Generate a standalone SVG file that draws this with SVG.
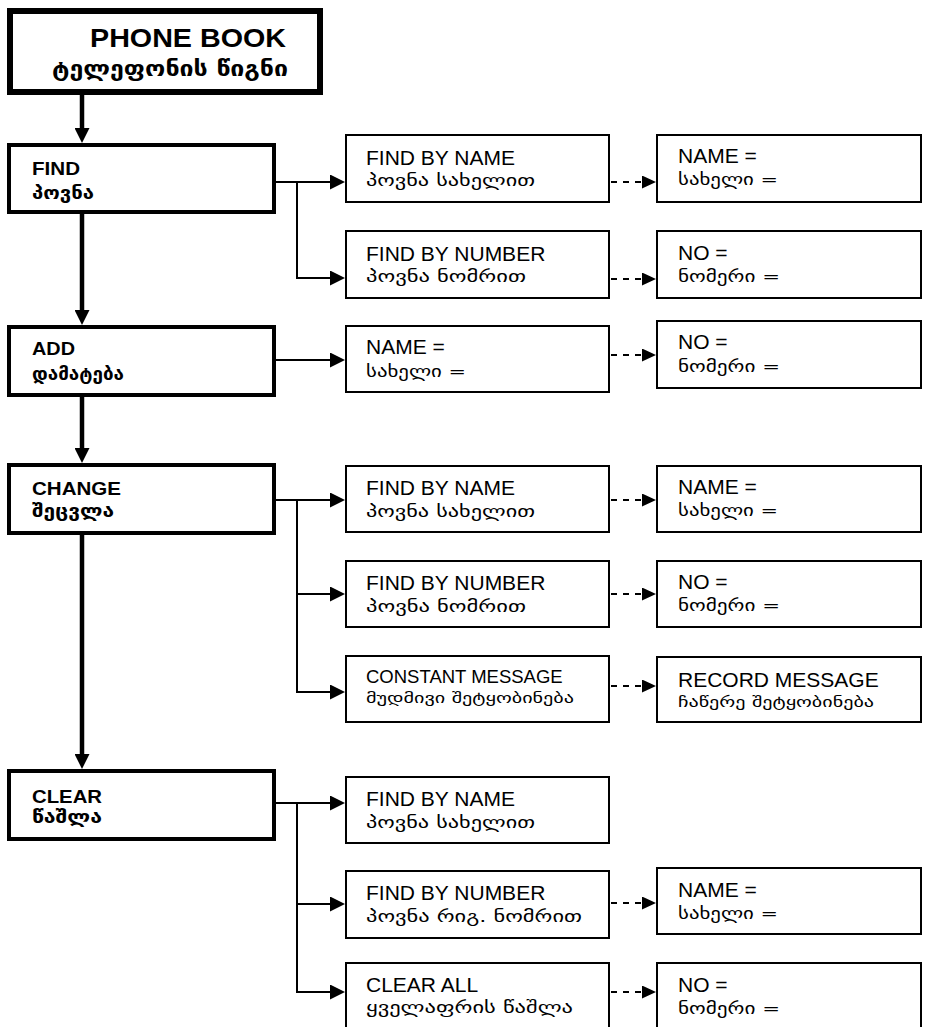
<svg xmlns="http://www.w3.org/2000/svg" width="926" height="1027" viewBox="0 0 926 1027">
<style>
.tb{fill:#fff;stroke:#000;stroke-width:6}
.mb{fill:#fff;stroke:#000;stroke-width:4}
.sb{fill:#fff;stroke:#000;stroke-width:2}
.lt{font-family:"Liberation Sans",Arial,sans-serif;font-size:21px;fill:#000}
.lts{font-family:"Liberation Sans",Arial,sans-serif;font-size:18.5px;fill:#000}
.bt{font-family:"Liberation Sans",Arial,sans-serif;font-size:19px;font-weight:bold;fill:#000}
.ge{font-family:"DejaVu Sans",sans-serif;font-size:16px;fill:#000}
.geb{font-family:"DejaVu Sans",sans-serif;font-size:18px;font-weight:bold;fill:#000}
.thick{stroke:#000;stroke-width:4.5;fill:none}
.thin{stroke:#000;stroke-width:2;fill:none}
.dash{stroke:#000;stroke-width:2;fill:none;stroke-dasharray:6 6}
</style>
<defs>
<marker id="ah" markerUnits="userSpaceOnUse" markerWidth="15" markerHeight="15" refX="0" refY="7.5" orient="auto" viewBox="0 0 15 15">
<path d="M0,0 L15,7.5 L0,15 z" fill="#000"/>
</marker>
<marker id="ahd" markerUnits="userSpaceOnUse" markerWidth="14" markerHeight="13" refX="0" refY="6.5" orient="auto" viewBox="0 0 14 13">
<path d="M0,0 L14,6.5 L0,13 z" fill="#000"/>
</marker>
</defs>

<g id="connectors">
<line class="thick" x1="82" y1="95" x2="82" y2="128" marker-end="url(#ah)"/>
<line class="thick" x1="82" y1="214" x2="82" y2="310" marker-end="url(#ah)"/>
<line class="thick" x1="82" y1="397" x2="82" y2="448" marker-end="url(#ah)"/>
<line class="thick" x1="82" y1="535" x2="82" y2="754" marker-end="url(#ah)"/>

<line class="thin" x1="275" y1="182" x2="330" y2="182" marker-end="url(#ah)"/>
<polyline class="thin" points="297,182 297,278 330,278" marker-end="url(#ah)"/>
<line class="thin" x1="275" y1="360" x2="330" y2="360" marker-end="url(#ah)"/>
<line class="thin" x1="275" y1="500" x2="330" y2="500" marker-end="url(#ah)"/>
<line class="thin" x1="297" y1="500" x2="297" y2="692"/>
<line class="thin" x1="297" y1="594" x2="330" y2="594" marker-end="url(#ah)"/>
<line class="thin" x1="296" y1="692" x2="330" y2="692" marker-end="url(#ah)"/>
<line class="thin" x1="275" y1="803" x2="330" y2="803" marker-end="url(#ah)"/>
<line class="thin" x1="297" y1="803" x2="297" y2="992"/>
<line class="thin" x1="297" y1="904" x2="330" y2="904" marker-end="url(#ah)"/>
<line class="thin" x1="296" y1="992" x2="330" y2="992" marker-end="url(#ah)"/>

<line class="dash" x1="611" y1="182" x2="642" y2="182" marker-end="url(#ahd)"/>
<line class="dash" x1="611" y1="279" x2="642" y2="279" marker-end="url(#ahd)"/>
<line class="dash" x1="611" y1="355" x2="642" y2="355" marker-end="url(#ahd)"/>
<line class="dash" x1="611" y1="500" x2="642" y2="500" marker-end="url(#ahd)"/>
<line class="dash" x1="611" y1="594" x2="642" y2="594" marker-end="url(#ahd)"/>
<line class="dash" x1="611" y1="686" x2="642" y2="686" marker-end="url(#ahd)"/>
<line class="dash" x1="611" y1="903" x2="642" y2="903" marker-end="url(#ahd)"/>
<line class="dash" x1="611" y1="992" x2="642" y2="992" marker-end="url(#ahd)"/>
</g>

<g id="title">
<rect class="tb" x="10" y="11" width="310" height="81"/>
<text class="bt" x="90" y="47" style="font-size:26px" textLength="196" lengthAdjust="spacingAndGlyphs">PHONE BOOK</text>
<text class="geb" x="52" y="76" style="font-size:22px" textLength="236" lengthAdjust="spacingAndGlyphs">ტელეფონის წიგნი</text>
</g>

<g id="find">
<rect class="mb" x="9" y="145" width="265" height="67"/>
<text class="bt" x="32" y="175" textLength="48" lengthAdjust="spacingAndGlyphs">FIND</text>
<text class="geb" x="32" y="199" textLength="62" lengthAdjust="spacingAndGlyphs">პოვნა</text>
</g>
<g id="find-by-name">
<rect class="sb" x="346" y="135" width="263" height="67"/>
<text class="lt" x="366" y="165">FIND BY NAME</text>
<text class="ge" x="366" y="186" textLength="169" lengthAdjust="spacingAndGlyphs">პოვნა სახელით</text>
</g>
<g id="find-by-number">
<rect class="sb" x="346" y="231" width="263" height="67"/>
<text class="lt" x="366" y="261">FIND BY NUMBER</text>
<text class="ge" x="366" y="282" textLength="160" lengthAdjust="spacingAndGlyphs">პოვნა ნომრით</text>
</g>
<g id="find-name-eq">
<rect class="sb" x="657" y="135" width="264" height="67"/>
<text class="lt" x="678" y="163">NAME =</text>
<text class="ge" x="678" y="185" textLength="100" lengthAdjust="spacingAndGlyphs">სახელი =</text>
</g>
<g id="find-no-eq">
<rect class="sb" x="657" y="231" width="264" height="67"/>
<text class="lt" x="678" y="260">NO =</text>
<text class="ge" x="678" y="282" textLength="102" lengthAdjust="spacingAndGlyphs">ნომერი =</text>
</g>

<g id="add">
<rect class="mb" x="9" y="327" width="265" height="68"/>
<text class="bt" x="32" y="355" textLength="43" lengthAdjust="spacingAndGlyphs">ADD</text>
<text class="geb" x="32" y="380" textLength="92" lengthAdjust="spacingAndGlyphs">დამატება</text>
</g>
<g id="add-name-eq">
<rect class="sb" x="346" y="326" width="263" height="66"/>
<text class="lt" x="366" y="354">NAME =</text>
<text class="ge" x="366" y="377" textLength="100" lengthAdjust="spacingAndGlyphs">სახელი =</text>
</g>
<g id="add-no-eq">
<rect class="sb" x="657" y="321" width="264" height="67"/>
<text class="lt" x="678" y="349">NO =</text>
<text class="ge" x="678" y="372" textLength="102" lengthAdjust="spacingAndGlyphs">ნომერი =</text>
</g>

<g id="change">
<rect class="mb" x="9" y="465" width="265" height="68"/>
<text class="bt" x="32" y="495" textLength="89" lengthAdjust="spacingAndGlyphs">CHANGE</text>
<text class="geb" x="32" y="517" textLength="82" lengthAdjust="spacingAndGlyphs">შეცვლა</text>
</g>
<g id="change-find-by-name">
<rect class="sb" x="346" y="466" width="263" height="66"/>
<text class="lt" x="366" y="495">FIND BY NAME</text>
<text class="ge" x="366" y="517" textLength="169" lengthAdjust="spacingAndGlyphs">პოვნა სახელით</text>
</g>
<g id="change-find-by-number">
<rect class="sb" x="346" y="561" width="263" height="66"/>
<text class="lt" x="366" y="590">FIND BY NUMBER</text>
<text class="ge" x="366" y="612" textLength="160" lengthAdjust="spacingAndGlyphs">პოვნა ნომრით</text>
</g>
<g id="constant-message">
<rect class="sb" x="346" y="656" width="263" height="66"/>
<text class="lts" x="366" y="683">CONSTANT MESSAGE</text>
<text class="ge" x="366" y="703" style="font-size:15px" textLength="208" lengthAdjust="spacingAndGlyphs">მუდმივი შეტყობინება</text>
</g>
<g id="change-name-eq">
<rect class="sb" x="657" y="466" width="264" height="66"/>
<text class="lt" x="678" y="494">NAME =</text>
<text class="ge" x="678" y="516" textLength="100" lengthAdjust="spacingAndGlyphs">სახელი =</text>
</g>
<g id="change-no-eq">
<rect class="sb" x="657" y="561" width="264" height="66"/>
<text class="lt" x="678" y="589">NO =</text>
<text class="ge" x="678" y="611" textLength="102" lengthAdjust="spacingAndGlyphs">ნომერი =</text>
</g>
<g id="record-message">
<rect class="sb" x="657" y="657" width="264" height="65"/>
<text class="lt" x="678" y="687">RECORD MESSAGE</text>
<text class="ge" x="678" y="707" style="font-size:15px" textLength="196" lengthAdjust="spacingAndGlyphs">ჩაწერე შეტყობინება</text>
</g>

<g id="clear">
<rect class="mb" x="9" y="771" width="265" height="68"/>
<text class="bt" x="32" y="803" textLength="70" lengthAdjust="spacingAndGlyphs">CLEAR</text>
<text class="geb" x="32" y="823" textLength="70" lengthAdjust="spacingAndGlyphs">წაშლა</text>
</g>
<g id="clear-find-by-name">
<rect class="sb" x="346" y="777" width="263" height="66"/>
<text class="lt" x="366" y="806">FIND BY NAME</text>
<text class="ge" x="366" y="828" textLength="169" lengthAdjust="spacingAndGlyphs">პოვნა სახელით</text>
</g>
<g id="clear-find-by-number">
<rect class="sb" x="346" y="871" width="263" height="67"/>
<text class="lt" x="366" y="900">FIND BY NUMBER</text>
<text class="ge" x="366" y="922" textLength="216" lengthAdjust="spacingAndGlyphs">პოვნა რიგ. ნომრით</text>
</g>
<g id="clear-all">
<rect class="sb" x="346" y="963" width="263" height="80"/>
<text class="lt" x="366" y="992">CLEAR ALL</text>
<text class="ge" x="366" y="1013" textLength="207" lengthAdjust="spacingAndGlyphs">ყველაფრის წაშლა</text>
</g>
<g id="clear-name-eq">
<rect class="sb" x="657" y="868" width="264" height="66"/>
<text class="lt" x="678" y="897">NAME =</text>
<text class="ge" x="678" y="919" textLength="100" lengthAdjust="spacingAndGlyphs">სახელი =</text>
</g>
<g id="clear-no-eq">
<rect class="sb" x="657" y="963" width="264" height="80"/>
<text class="lt" x="678" y="992">NO =</text>
<text class="ge" x="678" y="1014" textLength="102" lengthAdjust="spacingAndGlyphs">ნომერი =</text>
</g>
</svg>
